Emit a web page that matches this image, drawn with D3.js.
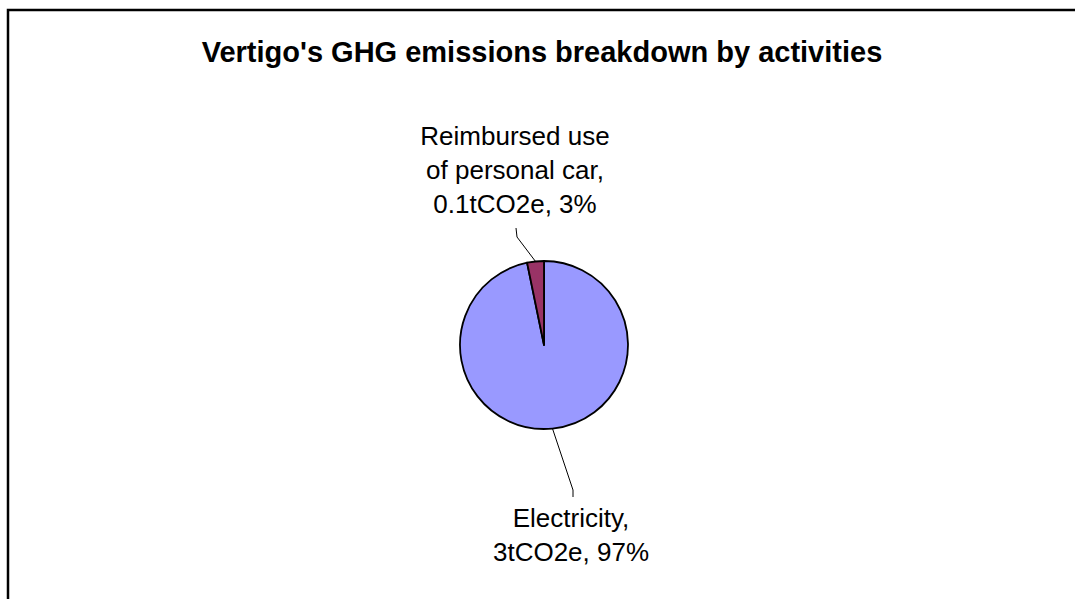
<!DOCTYPE html>
<html>
<head>
<meta charset="utf-8">
<script src="https://cdn.jsdelivr.net/npm/d3@7"></script>
<style>
    body { margin: 0; background: #fff; }
    svg { display: block; font-family: "Liberation Sans", Arial, sans-serif; }
</style>
</head>
<body>
<div class="chart"></div>
<script>
// Data
const categories = ["Electricity", "Reimbursed use of personal car"];
const emissions = [3, 0.1];  // tCO2e
const labelLines = [
    ["Electricity,", "3tCO2e, 97%"],
    ["Reimbursed use", "of personal car,", "0.1tCO2e, 3%"]
];
const colors = ["#9999ff", "#993366"];
const title = "Vertigo's GHG emissions breakdown by activities";

// The dimensions of the chart
const dimensions = {
    width: 1075,
    height: 599,
    center: { x: 544, y: 345 },
    radius: 84,
    lineHeight: 34
};

// where the labels sit relative to the pie centre, and the bends of the leader lines
const labelLayout = [
    { dx: 27, firstBaseline: 182, bend: [29, 145], end: [29, 152] },
    { dx: -29, firstBaseline: -200, bend: [-27, -108], end: [-28, -117] }
];

const svg = d3.select(".chart")
    .append("svg")
        .attr("width", dimensions.width)
        .attr("height", dimensions.height);

// chart frame (runs off the right and bottom edges)
svg.append("rect")
    .attr("x", 8)
    .attr("y", 10)
    .attr("width", dimensions.width + 20)
    .attr("height", dimensions.height + 20)
    .attr("fill", "none")
    .attr("stroke", "#000")
    .attr("stroke-width", 2.5);

svg.append("text")
    .attr("x", 542)
    .attr("y", 62)
    .attr("text-anchor", "middle")
    .attr("font-weight", "bold")
    .attr("font-size", 29)
    .text(title);

const pie = d3.pie().sort(null).value(d => d);
const arcs = pie(emissions);

const arc = d3.arc().innerRadius(0).outerRadius(dimensions.radius);

const bounds = svg.append("g")
    .attr("transform", `translate(${dimensions.center.x},${dimensions.center.y})`);

bounds.selectAll("path.slice")
    .data(arcs)
    .join("path")
        .attr("class", "slice")
        .attr("d", arc)
        .attr("fill", (d, i) => colors[i])
        .attr("stroke", "#000")
        .attr("stroke-width", 1.8)
        .attr("stroke-linejoin", "round");

// leader lines start on the rim at each slice's middle angle
function rimPoint(d) {
    const a = (d.startAngle + d.endAngle) / 2;
    return [Math.sin(a) * dimensions.radius, -Math.cos(a) * dimensions.radius];
}

bounds.selectAll("path.leader")
    .data(arcs)
    .join("path")
        .attr("class", "leader")
        .attr("d", (d, i) => d3.line()([rimPoint(d), labelLayout[i].bend, labelLayout[i].end]))
        .attr("fill", "none")
        .attr("stroke", "#000")
        .attr("stroke-width", 1);

const labels = bounds.selectAll("text.label")
    .data(arcs)
    .join("text")
        .attr("class", "label")
        .attr("text-anchor", "middle")
        .attr("font-size", 26)
        .attr("fill", "#000");

labels.each(function(d, i) {
    const t = d3.select(this);
    labelLines[i].forEach((line, j) => {
        t.append("tspan")
            .attr("x", labelLayout[i].dx)
            .attr("y", labelLayout[i].firstBaseline + j * dimensions.lineHeight)
            .text(line);
    });
});
</script>
</body>
</html>
